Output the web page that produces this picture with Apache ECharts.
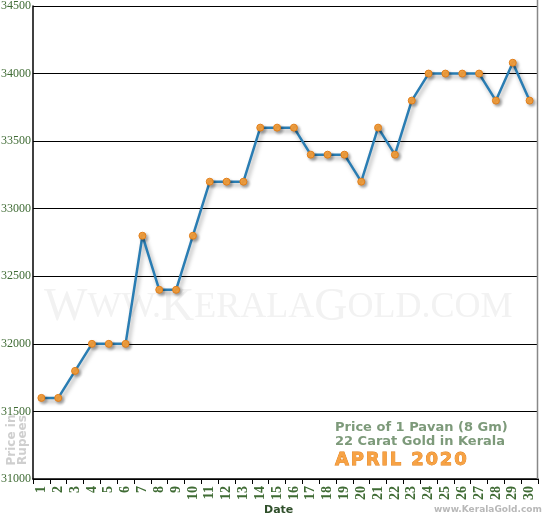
<!DOCTYPE html>
<html><head><meta charset="utf-8">
<script src="https://cdn.jsdelivr.net/npm/echarts@6/dist/echarts.min.js"></script>
<style>html,body{margin:0;padding:0;background:#fff}#c{width:550px;height:520px}</style>
</head><body><div id="c"></div>
<script>
const dates = ['1','2','3','4','5','6','7','8','9','10','11','12','13','14','15','16','17','18','19','20','21','22','23','24','25','26','27','28','29','30'];
const prices = [31600,31600,31800,32000,32000,32000,32800,32400,32400,32800,33200,33200,33200,33600,33600,33600,33400,33400,33400,33200,33600,33400,33800,34000,34000,34000,34000,33800,34080,33800];
const yMin = 31000, yMax = 34500, yStep = 500;

const chart = echarts.init(document.getElementById('c'), null, {renderer:'canvas'});
const green = '#3f6b34';
const hs = '\u200A';
chart.setOption({
  animation:false,
  grid:{left:33, right:12, top:6, bottom:41, containLabel:false, outerBoundsMode:'none'},
  xAxis:{type:'category', data:dates, boundaryGap:true,
    axisLine:{lineStyle:{color:'#000', width:1.5}},
    axisTick:{show:true, alignWithLabel:false, length:5, lineStyle:{color:'#000'}},
    axisLabel:{rotate:90, interval:0, color:green, fontFamily:'Liberation Serif', fontWeight:'bold', fontSize:14, margin:7},
    splitLine:{show:false}},
  yAxis:{type:'value', min:yMin, max:yMax, interval:yStep,
    axisLine:{show:true, lineStyle:{color:'#000', width:1.5}},
    axisTick:{show:false},
    axisLabel:{color:green, fontFamily:'Liberation Serif', fontSize:12, margin:2, formatter:v=>String(v)},
    splitLine:{lineStyle:{color:'#000', width:1.2}}},
  graphic:[
    {type:'line', shape:{x1:537.5,y1:0,x2:537.5,y2:479}, style:{stroke:'#888', lineWidth:1.5}, z:1},
    {type:'text', x:44, y:285, z:0, silent:true, style:{
      text:'{b|W}{s|WW.}{b|K}{s|ERALA}{b|G}{s|OLD.COM}',
      rich:{b:{fontFamily:'Liberation Serif', fontSize:46, fill:'#f2f2f2'}, s:{fontFamily:'Liberation Serif', fontSize:36, fill:'#f2f2f2'}}}},
    {type:'text', x:335, y:421, style:{text:'Price of 1 Pavan (8 Gm)', font:'bold 13px "DejaVu Sans"', fill:'#7d9a7a'}},
    {type:'text', x:335, y:435, style:{text:'22 Carat Gold in Kerala', font:'bold 13px "DejaVu Sans"', fill:'#7d9a7a'}},
    {type:'text', x:335, y:451, style:{text:['A','P','R','I','L',' ','2','0','2','0'].join(hs), font:'bold 18px "DejaVu Sans"', fill:'#f7a244', stroke:'#e07a10', lineWidth:0.8}},
    {type:'text', x:6, y:440, rotation:Math.PI/2, style:{text:'Price in\nRupees', font:'bold 12px "DejaVu Sans"', fill:'#cfcfcf', lineHeight:11, align:'center', verticalAlign:'top'}},
    {type:'text', x:264, y:505, style:{text:'Date', font:'bold 11px "DejaVu Sans"', fill:'#2f4f2a'}},
    {type:'text', x:434, y:505, style:{text:'www.KeralaGold.com', font:'bold 9px "DejaVu Sans"', fill:'#b8b8b8'}}
  ],
  series:[{type:'line', data:prices, symbol:'circle', symbolSize:7,
    lineStyle:{color:'#2a7db3', width:2.5, shadowColor:'rgba(0,0,0,0.35)', shadowBlur:4, shadowOffsetX:2, shadowOffsetY:3},
    itemStyle:{color:'#f8a442', borderColor:'#e07e1a', borderWidth:1, shadowColor:'rgba(0,0,0,0.3)', shadowBlur:3, shadowOffsetX:2, shadowOffsetY:2},
    z:3}]
});
</script></body></html>
